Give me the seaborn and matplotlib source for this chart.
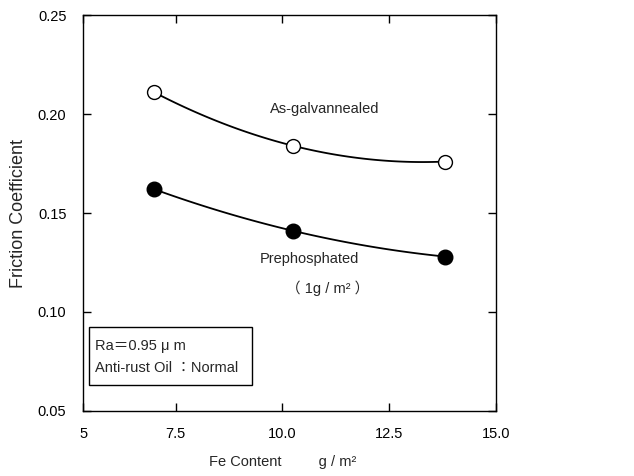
import numpy as np
import pandas as pd
import matplotlib
matplotlib.use("Agg")
import matplotlib.pyplot as plt
from matplotlib.patches import Rectangle
import seaborn as sns

# Data
fe_content = [7.0, 10.25, 13.8]
galvannealed = [0.211, 0.184, 0.176]
prephosphated = [0.162, 0.141, 0.128]
x_tick_values = [5.33, 7.5, 10.0, 12.5, 15.0]
x_tick_labels = ["5", "7.5", "10.0", "12.5", "15.0"]
y_tick_values = [0.05, 0.10, 0.15, 0.20, 0.25]
y_tick_labels = ["0.05", "0.10", "0.15", "0.20", "0.25"]

sns.set_style("ticks")
plt.rcParams["font.family"] = ["Liberation Sans", "Noto Sans CJK JP", "DejaVu Sans"]

fig = plt.figure(figsize=(6.34, 4.76), dpi=100)
ax = fig.add_axes([0.131, 0.137, 0.651, 0.831])

df = pd.DataFrame({"fe": fe_content, "ag": galvannealed, "pp": prephosphated})

sns.regplot(data=df, x="fe", y="ag", order=2, ci=None, scatter=False, ax=ax,
            line_kws=dict(color="black", lw=1.3))
sns.regplot(data=df, x="fe", y="pp", order=2, ci=None, scatter=False, ax=ax,
            line_kws=dict(color="black", lw=1.3))
sns.scatterplot(data=df, x="fe", y="ag", ax=ax, s=100, marker="o",
                facecolor="white", edgecolor="black", linewidth=1.0, zorder=3)
sns.scatterplot(data=df, x="fe", y="pp", ax=ax, s=110, marker="o",
                color="black", edgecolor="black", linewidth=1.0, zorder=3)

ax.set_xlim(5.33, 15.0)
ax.set_ylim(0.05, 0.25)
ax.set_xticks(x_tick_values)
ax.set_xticklabels(x_tick_labels)
ax.set_yticks(y_tick_values)
ax.set_yticklabels(y_tick_labels)
ax.tick_params(direction="in", length=6, width=1, top=True, right=True,
               labelsize=10.5, colors="black")
ax.tick_params(axis="y", pad=12)
ax.tick_params(axis="x", pad=12)
for s in ax.spines.values():
    s.set_linewidth(1.0)
    s.set_color("black")

ax.set_xlabel("Fe Content         g / m²", fontsize=10.5)
ax.xaxis.set_label_coords(0.483, -0.112)
ax.set_ylabel("Friction Coefficient", fontsize=13)
ax.yaxis.set_label_coords(-0.136, 0.5)

ax.text(9.71, 0.2024, "As-galvannealed", fontsize=10.5, va="center", ha="left")
ax.text(9.47, 0.1266, "Prephosphated", fontsize=10.5, va="center", ha="left")
ax.text(11.06, 0.1118, "（ 1g / m² ）", fontsize=10.5, va="center", ha="center")

ax.add_patch(Rectangle((0.0145, 0.065), 0.395, 0.1465, transform=ax.transAxes,
                       fill=False, edgecolor="black", lw=1.0))
ax.text(0.03, 0.165, "Ra＝0.95 μ m", transform=ax.transAxes, fontsize=10.5,
        va="center", ha="left")
ax.text(0.03, 0.109, "Anti-rust Oil ：Normal", transform=ax.transAxes,
        fontsize=10.5, va="center", ha="left")

fig.savefig("out.png", dpi=100)
